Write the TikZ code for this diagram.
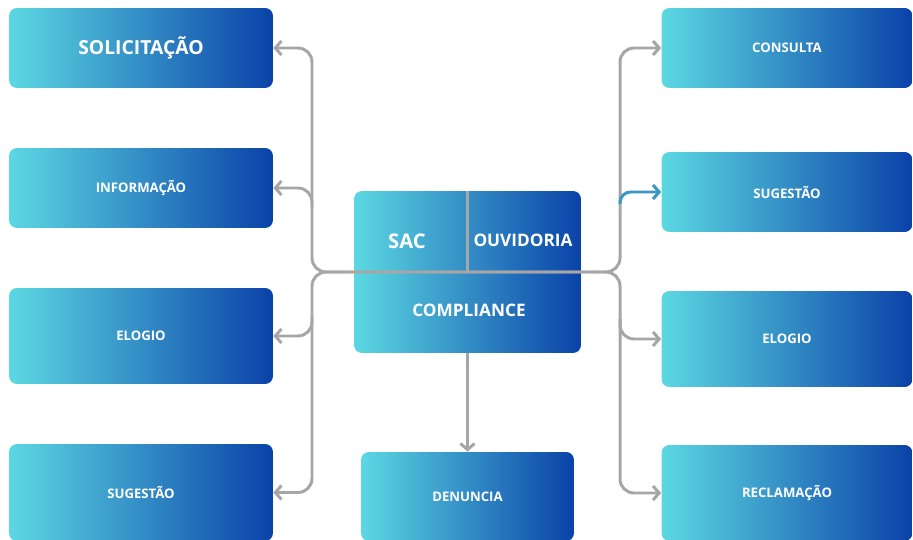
\documentclass[tikz,border=0pt]{standalone}
\usepackage{fontspec}
\setmainfont{Open Sans}
\usepackage{xcolor}
\usepackage{tikz}
\usetikzlibrary{calc}
\usetikzlibrary{arrows.meta}
\tikzset{>={Straight Barb[length=3.5pt,width=8pt]}}

\definecolor{ciano}{RGB}{92,216,226}
\definecolor{azul}{RGB}{10,66,168}
\definecolor{linha}{RGB}{166,166,166}
\definecolor{seta}{RGB}{58,150,196}

\tikzset{
	caixa/.style={rounded corners=4.5pt, left color=ciano, right color=azul,
		draw=none, text=white, inner sep=0pt,
		font=\bfseries\fontsize{7.5}{9}\selectfont},
	texto/.style={text=white, inner sep=0pt,
		font=\bfseries\fontsize{9.8}{12}\selectfont},
	ligacao/.style={line width=1.7pt, draw=linha, rounded corners=8pt, ->},
}

\begin{document}
\begin{tikzpicture}[x=0.02cm, y=-0.02cm]
	\useasboundingbox (0,0) rectangle (913,540);
	
	\pgfmathsetmacro{\xl}{312}
	\pgfmathsetmacro{\xr}{620}
	
	% Caixas esquerda
	\node[caixa, minimum width=5.28cm, minimum height=1.6cm,
	font=\bfseries\fontsize{11}{13}\selectfont] (solic) at (141,48) {SOLICITAÇÃO};
	\node[caixa, minimum width=5.28cm, minimum height=1.6cm] (info) at (141,188) {INFORMAÇÃO};
	\node[caixa, minimum width=5.28cm, minimum height=1.92cm] (elogl) at (141,336) {ELOGIO};
	\node[caixa, minimum width=5.28cm, minimum height=1.94cm] (sugl) at (141,492.5) {SUGESTÃO};
	
	% Caixas direita
	\node[caixa, minimum width=5.02cm, minimum height=1.6cm] (cons) at (787,48) {CONSULTA};
	\node[caixa, minimum width=5.02cm, minimum height=1.6cm] (sugr) at (787,192) {SUGESTÃO};
	\node[caixa, minimum width=5.02cm, minimum height=1.92cm] (elogr) at (787,339) {ELOGIO};
	\node[caixa, minimum width=5.02cm, minimum height=1.92cm] (recl) at (787,493) {RECLAMAÇÃO};
	
	% Centro
	\node[caixa, minimum width=4.54cm, minimum height=3.24cm] (hub) at (467.5,272) {};
	\node[caixa, minimum width=4.26cm, minimum height=1.78cm] (denun) at (467.5,496.5) {DENUNCIA};
	
	\coordinate (e) at (\xl,272);
	\coordinate (d) at (\xr,272);
	
	% Ligacoes
	\draw[ligacao, -] (hub.north) -- (hub.center);
	\draw[ligacao] (hub.center) -- (e) |- (solic.east);
	\draw[ligacao] (hub.center) -- (e) |- (sugl.east);
	\draw[ligacao] ($(e |- info.east)+(0,20)$) -- (e |- info.east) -- (info.east);
	\draw[ligacao] ($(e |- elogl.east)+(0,-20)$) -- (e |- elogl.east) -- (elogl.east);
	
	\draw[ligacao] (hub.center) -- (d) |- (cons.west);
	\draw[ligacao] (hub.center) -- (d) |- (recl.west);
	\draw[ligacao] ($(d |- elogr.west)+(0,-20)$) -- (d |- elogr.west) -- (elogr.west);
	\draw[ligacao, draw=seta, rounded corners=6pt] ($(d |- sugr.west)+(0,12)$) -- (d |- sugr.west) -- (sugr.west);
	
	\draw[ligacao] (hub.south) -- (denun.north);
	
	% Textos do centro
	\node[texto, font=\bfseries\fontsize{11.5}{13}\selectfont] (sac) at (407,241) {SAC};
	\node[texto] (ouv) at (523,240) {OUVIDORIA};
	\node[texto] (comp) at (469,310) {COMPLIANCE};
	
\end{tikzpicture}
\end{document}
